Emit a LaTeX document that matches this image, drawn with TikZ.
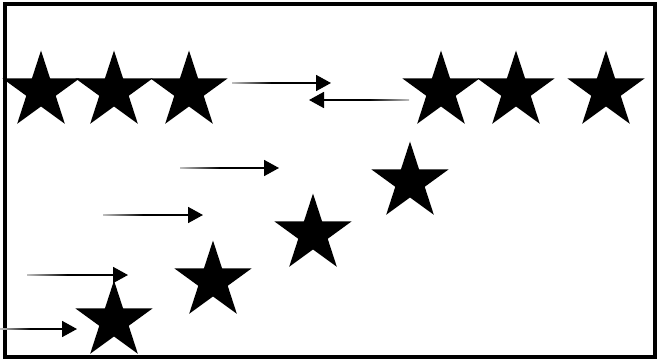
\documentclass[tikz,border=0pt]{standalone}
\usetikzlibrary{shapes.geometric,arrows.meta,calc}
\begin{document}
\begin{tikzpicture}[x=1pt,y=-1pt,
 starnode/.style={star,star points=5,star point ratio=2.618,minimum size=81pt,inner sep=0pt,fill=black,draw=none},
 arr/.style={line width=1.8pt,-{Triangle[length=15pt,width=16pt]}},
 frame/.style={line width=4pt}]
\useasboundingbox (0,0) rectangle (657,361);
\draw[frame] (5,4) rectangle (655,357);
% top row
\node[starnode] (s1) at (41,91) {};
\node[starnode] (s2) at (114,91) {};
\node[starnode] (s3) at (189,91) {};
\node[starnode] (s4) at (441,91) {};
\node[starnode] (s5) at (516,91) {};
\node[starnode] (s6) at (606,91) {};
% diagonal
\node[starnode] (d1) at (114,321) {};
\node[starnode] (d2) at (213,281) {};
\node[starnode] (d3) at (313,234) {};
\node[starnode] (d4) at (410,182) {};
% arrows
\coordinate (a1s) at (232,83);  \coordinate (a1e) at (331,83);
\coordinate (a2s) at (409,100); \coordinate (a2e) at (309,100);
\coordinate (a3s) at (180,168); \coordinate (a3e) at (279,168);
\coordinate (a4s) at (103,215); \coordinate (a4e) at (203,215);
\coordinate (a5s) at (27,275);  \coordinate (a5e) at (128,275);
\coordinate (a6s) at (0,329);   \coordinate (a6e) at (77,329);
\foreach \s/\e in {a1s/a1e,a3s/a3e,a4s/a4e,a5s/a5e,a6s/a6e}{
  \shade[left color=black!25,right color=black] ($(\s)+(0,-0.8)$) rectangle ($(\s)!0.4!(\e)+(0,0.8)$);
  \draw[arr] ($(\s)!0.4!(\e)+(-0.5,0)$) -- (\e);
}
\shade[right color=black!25,left color=black] ($(a2s)+(0,-0.8)$) rectangle ($(a2s)!0.4!(a2e)+(0,0.8)$);
\draw[arr] ($(a2s)!0.4!(a2e)+(0.5,0)$) -- (a2e);
\end{tikzpicture}
\end{document}
